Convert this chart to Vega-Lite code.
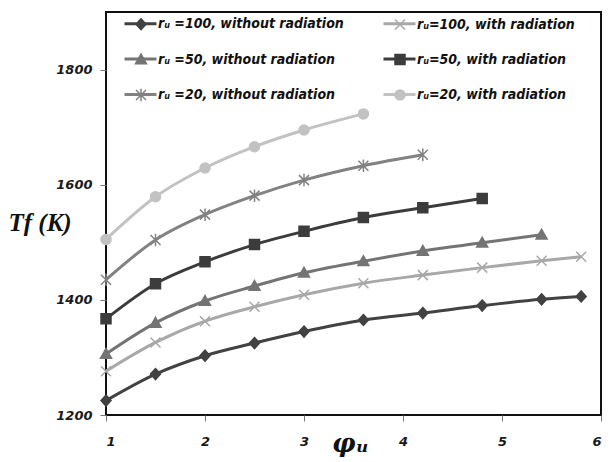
{
  "$schema": "https://vega.github.io/schema/vega-lite/v6.json",
  "width": 495,
  "height": 403,
  "autosize": {"type": "none"},
  "padding": {"left": 106, "top": 12, "right": 8, "bottom": 47},
  "background": "white",
  "config": {
    "view": {"stroke": "#111111", "strokeWidth": 2},
    "axis": {
      "domain": false,
      "grid": false,
      "ticks": true,
      "tickColor": "#777777",
      "tickSize": 6,
      "tickWidth": 1,
      "labelFont": "DejaVu Sans",
      "labelFontWeight": "bold",
      "labelFontStyle": "italic",
      "labelFontSize": 13,
      "labelColor": "#1a1a1a"
    }
  },
  "data": {
    "values": [
      {"series": "rᵤ =100, without radiation", "phi": 1, "T": 1225},
      {"series": "rᵤ =100, without radiation", "phi": 1.5, "T": 1271},
      {"series": "rᵤ =100, without radiation", "phi": 2, "T": 1303},
      {"series": "rᵤ =100, without radiation", "phi": 2.5, "T": 1325},
      {"series": "rᵤ =100, without radiation", "phi": 3, "T": 1345},
      {"series": "rᵤ =100, without radiation", "phi": 3.6, "T": 1365},
      {"series": "rᵤ =100, without radiation", "phi": 4.2, "T": 1377},
      {"series": "rᵤ =100, without radiation", "phi": 4.8, "T": 1390},
      {"series": "rᵤ =100, without radiation", "phi": 5.4, "T": 1401},
      {"series": "rᵤ =100, without radiation", "phi": 5.8, "T": 1406},
      {"series": "rᵤ=100, with radiation", "phi": 1, "T": 1276},
      {"series": "rᵤ=100, with radiation", "phi": 1.5, "T": 1326},
      {"series": "rᵤ=100, with radiation", "phi": 2, "T": 1363},
      {"series": "rᵤ=100, with radiation", "phi": 2.5, "T": 1388},
      {"series": "rᵤ=100, with radiation", "phi": 3, "T": 1409},
      {"series": "rᵤ=100, with radiation", "phi": 3.6, "T": 1429},
      {"series": "rᵤ=100, with radiation", "phi": 4.2, "T": 1443},
      {"series": "rᵤ=100, with radiation", "phi": 4.8, "T": 1456},
      {"series": "rᵤ=100, with radiation", "phi": 5.4, "T": 1468},
      {"series": "rᵤ=100, with radiation", "phi": 5.8, "T": 1475},
      {"series": "rᵤ =50, without radiation", "phi": 1, "T": 1306},
      {"series": "rᵤ =50, without radiation", "phi": 1.5, "T": 1360},
      {"series": "rᵤ =50, without radiation", "phi": 2, "T": 1398},
      {"series": "rᵤ =50, without radiation", "phi": 2.5, "T": 1424},
      {"series": "rᵤ =50, without radiation", "phi": 3, "T": 1447},
      {"series": "rᵤ =50, without radiation", "phi": 3.6, "T": 1467},
      {"series": "rᵤ =50, without radiation", "phi": 4.2, "T": 1485},
      {"series": "rᵤ =50, without radiation", "phi": 4.8, "T": 1499},
      {"series": "rᵤ =50, without radiation", "phi": 5.4, "T": 1513},
      {"series": "rᵤ=50, with radiation", "phi": 1, "T": 1367},
      {"series": "rᵤ=50, with radiation", "phi": 1.5, "T": 1428},
      {"series": "rᵤ=50, with radiation", "phi": 2, "T": 1466},
      {"series": "rᵤ=50, with radiation", "phi": 2.5, "T": 1496},
      {"series": "rᵤ=50, with radiation", "phi": 3, "T": 1519},
      {"series": "rᵤ=50, with radiation", "phi": 3.6, "T": 1543},
      {"series": "rᵤ=50, with radiation", "phi": 4.2, "T": 1560},
      {"series": "rᵤ=50, with radiation", "phi": 4.8, "T": 1576},
      {"series": "rᵤ =20, without radiation", "phi": 1, "T": 1435},
      {"series": "rᵤ =20, without radiation", "phi": 1.5, "T": 1504},
      {"series": "rᵤ =20, without radiation", "phi": 2, "T": 1548},
      {"series": "rᵤ =20, without radiation", "phi": 2.5, "T": 1581},
      {"series": "rᵤ =20, without radiation", "phi": 3, "T": 1608},
      {"series": "rᵤ =20, without radiation", "phi": 3.6, "T": 1633},
      {"series": "rᵤ =20, without radiation", "phi": 4.2, "T": 1652},
      {"series": "rᵤ=20, with radiation", "phi": 1, "T": 1505},
      {"series": "rᵤ=20, with radiation", "phi": 1.5, "T": 1579},
      {"series": "rᵤ=20, with radiation", "phi": 2, "T": 1629},
      {"series": "rᵤ=20, with radiation", "phi": 2.5, "T": 1666},
      {"series": "rᵤ=20, with radiation", "phi": 3, "T": 1695},
      {"series": "rᵤ=20, with radiation", "phi": 3.6, "T": 1723}
    ]
  },
  "encoding": {
    "x": {
      "field": "phi",
      "type": "quantitative",
      "scale": {"domain": [1, 6], "nice": false, "zero": false},
      "axis": {
        "values": [1, 2, 3, 4, 5, 6],
        "format": "d",
        "labelPadding": 14,
        "title": "φᵤ",
        "titleFont": "DejaVu Serif",
        "titleFontSize": 26,
        "titleFontWeight": "bold",
        "titleFontStyle": "italic",
        "titleColor": "#111111",
        "titleAlign": "center",
        "titleBaseline": "middle",
        "titleX": 244,
        "titleY": 28
      }
    },
    "y": {
      "field": "T",
      "type": "quantitative",
      "scale": {"domain": [1200, 1900], "nice": false, "zero": false},
      "axis": {
        "values": [1200, 1400, 1600, 1800],
        "format": "d",
        "labelPadding": 8,
        "title": "Tf (K)",
        "titleAngle": 0,
        "titleFont": "Liberation Serif",
        "titleFontSize": 25,
        "titleFontWeight": "bold",
        "titleFontStyle": "italic",
        "titleColor": "#111111",
        "titleAlign": "left",
        "titleBaseline": "middle",
        "titleX": -98,
        "titleY": 210
      }
    }
  },
  "resolve": {"legend": {"color": "independent", "shape": "independent", "stroke": "independent"}},
  "layer": [
    {
      "mark": {"type": "line", "strokeWidth": 3, "interpolate": "monotone"},
      "encoding": {
        "color": {
          "field": "series",
          "type": "nominal",
          "scale": {
            "domain": ["rᵤ =100, without radiation", "rᵤ=100, with radiation", "rᵤ =50, without radiation", "rᵤ=50, with radiation", "rᵤ =20, without radiation", "rᵤ=20, with radiation"],
            "range": ["#424242", "#a8a8a8", "#747474", "#3c3c3c", "#828282", "#c2c2c2"]
          },
          "legend": {
            "orient": "none",
            "legendX": 17,
            "legendY": -6,
            "direction": "horizontal",
            "columns": 2,
            "title": null,
            "padding": 0,
            "columnPadding": 214,
            "rowPadding": 11.5,
            "symbolType": "stroke",
            "symbolSize": 1024,
            "symbolStrokeWidth": 3,
            "labelOffset": 0,
            "labelExpr": "''",
            "labelFontSize": 1
          }
        }
      }
    },
    {
      "mark": {"type": "point", "filled": true, "opacity": 1, "strokeWidth": 1.5, "size": 100},
      "encoding": {
        "color": {
          "field": "series",
          "type": "nominal",
          "legend": {
            "orient": "none",
            "legendX": 28,
            "legendY": 5,
            "direction": "horizontal",
            "columns": 2,
            "title": null,
            "padding": 0,
            "columnPadding": 48,
            "rowPadding": 17.5,
            "symbolSize": 100,
            "symbolStrokeWidth": 1.5,
            "labelOffset": 10,
            "labelFont": "DejaVu Sans Condensed",
            "labelFontSize": 14,
            "labelFontWeight": "bold",
            "labelFontStyle": "italic",
            "labelColor": "#111111",
            "labelLimit": 300
          }
        },
        "shape": {
          "field": "series",
          "type": "nominal",
          "scale": {
            "domain": ["rᵤ =100, without radiation", "rᵤ=100, with radiation", "rᵤ =50, without radiation", "rᵤ=50, with radiation", "rᵤ =20, without radiation", "rᵤ=20, with radiation"],
            "range": ["M0,-1.1L1,0L0,1.1L-1,0Z", "M-1,-1L1,1M-1,1L1,-1", "M0,-1.1L1.1,0.85L-1.1,0.85Z", "M-1,-1H1V1H-1Z", "M-1,-1L1,1M-1,1L1,-1M0,-1.25V1.25", "circle"]
          },
          "legend": null
        },
        "stroke": {
          "field": "series",
          "type": "nominal",
          "scale": {
            "domain": ["rᵤ =100, without radiation", "rᵤ=100, with radiation", "rᵤ =50, without radiation", "rᵤ=50, with radiation", "rᵤ =20, without radiation", "rᵤ=20, with radiation"],
            "range": ["#424242", "#a8a8a8", "#747474", "#3c3c3c", "#828282", "#c2c2c2"]
          },
          "legend": null
        }
      }
    }
  ]
}
